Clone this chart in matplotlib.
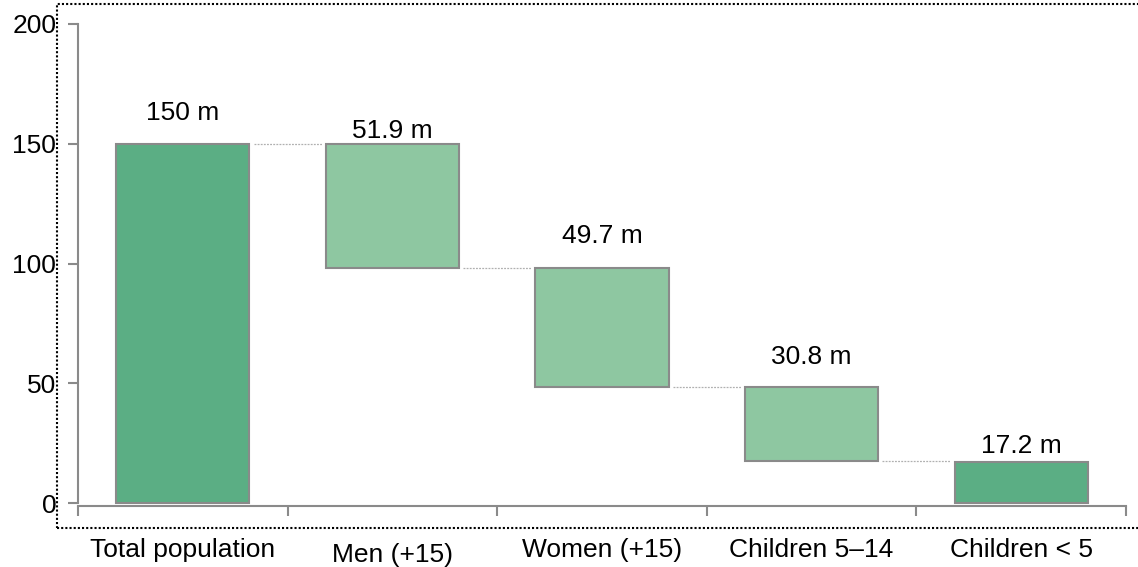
import numpy as np
import matplotlib
matplotlib.use('Agg')
import matplotlib.pyplot as plt
from matplotlib.patches import Rectangle

plt.rcParams['font.family'] = ['Liberation Sans', 'DejaVu Sans']

# population breakdown, millions
categories = ['Total population', 'Men (+15)', 'Women (+15)', 'Children 5–14', 'Children < 5']
values     = [150, 51.9, 49.7, 30.8, 17.2]
is_total   = [True, False, False, False, True]
value_text = ['150 m', '51.9 m', '49.7 m', '30.8 m', '17.2 m']
y_ticks    = [0, 50, 100, 150, 200]

DARK  = '#5bae84'
LIGHT = '#8ec7a1'
EDGE  = '#8a8a8a'
BAR_W = 0.635
FS    = 19
label_gap_px = [31, 13, 32, 30, 16]
cat_drop_px  = [37, 42, 37, 37, 37]

# waterfall geometry
bottoms, tops, ends = [], [], []
running = 0
for v, tot in zip(values, is_total):
    if tot:
        b, t = 0, v
        running = v
        ends.append(t)
    else:
        b, t = running - v, running
        running = b
        ends.append(b)
    bottoms.append(b); tops.append(t)

fig = plt.figure(figsize=(11.38, 5.67), dpi=100)
ax = fig.add_axes([78/1138, 0.0959, 1048/1138, 0.8618])

x = np.arange(len(categories))
heights = [t - b for t, b in zip(tops, bottoms)]
colors = [DARK if tot else LIGHT for tot in is_total]
ax.bar(x, heights, bottom=bottoms, width=BAR_W, color=colors,
       edgecolor=EDGE, linewidth=1.5, zorder=3)

# dotted connectors between consecutive bars
for i in range(len(x) - 1):
    ax.plot([x[i] + BAR_W/2 + 0.02, x[i+1] - BAR_W/2 - 0.02], [ends[i], ends[i]],
            color='#b0b0b0', lw=0.9, ls=(0, (1.5, 1)), zorder=2)

for i, txt in enumerate(value_text):
    ax.annotate(txt, (x[i], tops[i]), xytext=(0, label_gap_px[i]),
                textcoords='offset pixels', ha='center', va='center', fontsize=FS)

# category names under the axis
for i, name in enumerate(categories):
    ax.annotate(name, (x[i], 0), xycoords=ax.get_xaxis_transform(),
                xytext=(0, -cat_drop_px[i]), textcoords='offset pixels',
                ha='center', va='center', fontsize=FS, annotation_clip=False)

ax.set_xlim(-0.5, len(x) - 0.5)
ax.set_ylim(-4, 200)
ax.set_yticks(y_ticks)
ax.tick_params(axis='y', length=7.2, width=1.5, color=EDGE, pad=8.5, labelsize=FS)

ax.set_xticks(np.arange(-0.5, len(x)))
ax.set_xticklabels([])
ax.tick_params(axis='x', direction='out', length=7.5, width=1.5, color=EDGE)

for side in ('top', 'right'):
    ax.spines[side].set_visible(False)
ax.spines['left'].set_bounds(0, 200)
ax.spines['left'].set_color(EDGE)
ax.spines['left'].set_linewidth(1.5)
ax.spines['bottom'].set_position(('data', -1.2))
ax.spines['bottom'].set_color(EDGE)
ax.spines['bottom'].set_linewidth(1.5)

# dotted frame around the plot area
frame = Rectangle((57/1138, 39/567), 1.2, 524/567, transform=fig.transFigure,
                  fill=False, ec='black', lw=1.5, ls=(0, (1, 1)), clip_on=False)
fig.patches.append(frame)

fig.savefig('out.png', dpi=100)
